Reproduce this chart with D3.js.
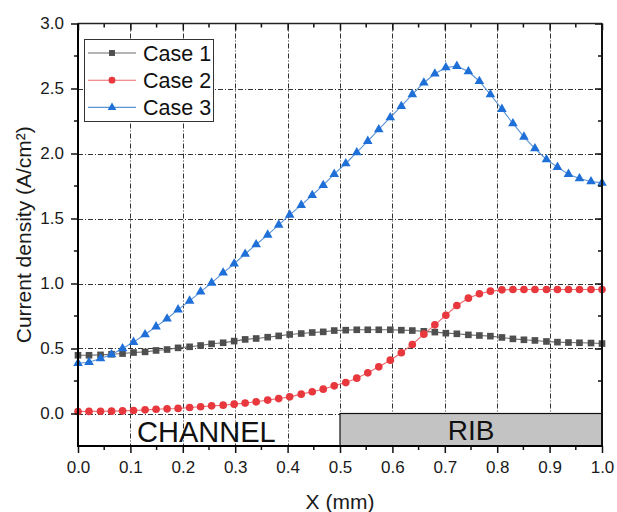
<!DOCTYPE html>
<html>
<head>
<meta charset="utf-8">
<script src="https://cdn.jsdelivr.net/npm/d3@7"></script>
<style>
    body { margin: 0; background: #fff; }
    text { font-family: Arial, "Liberation Sans", sans-serif; }
</style>
</head>
<body>
<div class="current-plot"></div>
<script>
// x positions of the nodes (mm)
const x_mm = [0.000, 0.021, 0.043, 0.064, 0.085, 0.106, 0.128, 0.149, 0.170, 0.191,
    0.213, 0.234, 0.255, 0.277, 0.298, 0.319, 0.340, 0.362, 0.383, 0.404,
    0.426, 0.447, 0.468, 0.489, 0.511, 0.532, 0.553, 0.574, 0.596, 0.617,
    0.638, 0.660, 0.681, 0.702, 0.723, 0.745, 0.766, 0.787, 0.809, 0.830,
    0.851, 0.872, 0.894, 0.915, 0.936, 0.957, 0.979, 1.000];

const case1 = [0.448, 0.448, 0.451, 0.456, 0.461, 0.469, 0.474, 0.485, 0.492, 0.505,
    0.513, 0.523, 0.536, 0.544, 0.557, 0.570, 0.577, 0.587, 0.597, 0.608,
    0.615, 0.623, 0.628, 0.638, 0.641, 0.644, 0.644, 0.644, 0.644, 0.641,
    0.638, 0.632, 0.626, 0.618, 0.613, 0.605, 0.600, 0.595, 0.585, 0.574,
    0.567, 0.562, 0.554, 0.549, 0.546, 0.544, 0.542, 0.538];

const case2 = [0.015, 0.016, 0.017, 0.018, 0.020, 0.023, 0.028, 0.033, 0.036, 0.039,
    0.046, 0.052, 0.059, 0.064, 0.072, 0.080, 0.090, 0.103, 0.115, 0.128,
    0.149, 0.167, 0.187, 0.213, 0.238, 0.272, 0.313, 0.359, 0.410, 0.467,
    0.531, 0.610, 0.682, 0.756, 0.831, 0.887, 0.921, 0.941, 0.951, 0.954,
    0.954, 0.954, 0.954, 0.954, 0.954, 0.954, 0.954, 0.954];

const case3 = [0.387, 0.394, 0.423, 0.454, 0.500, 0.549, 0.608, 0.668, 0.729, 0.799,
    0.866, 0.936, 1.005, 1.082, 1.152, 1.227, 1.300, 1.374, 1.451, 1.528,
    1.603, 1.679, 1.756, 1.841, 1.923, 2.008, 2.095, 2.185, 2.277, 2.364,
    2.455, 2.544, 2.613, 2.662, 2.672, 2.631, 2.556, 2.454, 2.341, 2.231,
    2.128, 2.038, 1.954, 1.895, 1.841, 1.808, 1.785, 1.774];

const series_names = ["Case 1", "Case 2", "Case 3"];
const x_ticks = [0, 0.1, 0.2, 0.3, 0.4, 0.5, 0.6, 0.7, 0.8, 0.9, 1.0];
const y_ticks = [0, 0.5, 1.0, 1.5, 2.0, 2.5, 3.0];
const x_minor = [0.05, 0.15, 0.25, 0.35, 0.45, 0.55, 0.65, 0.75, 0.85, 0.95];
const y_minor = [0.25, 0.75, 1.25, 1.75, 2.25, 2.75];
const regions = [
    {label: "CHANNEL", start: 0, end: 0.5},
    {label: "RIB", start: 0.5, end: 1.0}
];

function draw_chart(){
    const width = 617;
    const height = 512;
    const left = 78, right = 602, top = 23.5, bottom = 446;

    const svg = d3.select(".current-plot")
        .append("svg")
        .attr("width", width)
        .attr("height", height)

    const x = d3.scaleLinear().domain([0, 1]).range([left, right]);
    const y = d3.scaleLinear().domain([-0.25, 3.0]).range([bottom, top]);

    // dash-dot grid
    const grid = svg.append("g")
        .attr("stroke", "#333")
        .attr("stroke-width", 1)
        .attr("stroke-dasharray", "5,2,1,2")
    grid.selectAll(".vgrid")
        .data(x_ticks.filter(d => d > 0 && d < 1))
        .enter()
        .append("line")
        .attr("x1", d => Math.round(x(d)) + 0.5)
        .attr("x2", d => Math.round(x(d)) + 0.5)
        .attr("y1", top)
        .attr("y2", bottom)
    grid.selectAll(".hgrid")
        .data(y_ticks.filter(d => d < 3))
        .enter()
        .append("line")
        .attr("x1", left)
        .attr("x2", right)
        .attr("y1", d => Math.round(y(d)) + 0.5)
        .attr("y2", d => Math.round(y(d)) + 0.5)

    // channel / rib bars
    svg.selectAll(".region")
        .data(regions)
        .enter()
        .append("rect")
        .attr("x", d => x(d.start))
        .attr("y", y(0))
        .attr("width", d => x(d.end) - x(d.start))
        .attr("height", y(-0.25) - y(0))
        .attr("fill", d => d.label == "RIB" ? "#c3c3c3" : "none")
        .attr("stroke", d => d.label == "RIB" ? "#111" : "none")
        .attr("stroke-width", 1.2)

    svg.selectAll(".region-label")
        .data(regions)
        .enter()
        .append("text")
        .attr("x", d => d.label == "RIB" ? x(0.75) : x(0.245))
        .attr("y", d => d.label == "RIB" ? 439.5 : 441.5)
        .attr("text-anchor", "middle")
        .attr("font-size", d => d.label == "RIB" ? "28px" : "29px")
        .attr("fill", "#111")
        .text(d => d.label)

    // series
    const all_series = [
        {name: series_names[0], values: case1, color: "#4f4f4f", line: "#6a6a6a", symbol: d3.symbolSquare, size: 44},
        {name: series_names[1], values: case2, color: "#e8383e", line: "#ec6a6e", symbol: d3.symbolCircle, size: 46},
        {name: series_names[2], values: case3, color: "#1f6fd8", line: "#5a93d6", symbol: d3.symbolTriangle, size: 40}
    ];

    const line = d3.line()
        .x(d => x(d[0]))
        .y(d => y(d[1]));

    all_series.forEach(function(s){
        let pts = x_mm.map((xv, i) => [xv, s.values[i]]);
        svg.append("path")
            .datum(pts)
            .attr("fill", "none")
            .attr("stroke", s.line)
            .attr("stroke-width", 1.1)
            .attr("d", line)
        svg.selectAll(".pt-" + s.name.replace(" ", ""))
            .data(pts)
            .enter()
            .append("path")
            .attr("d", d3.symbol().type(s.symbol).size(s.size))
            .attr("transform", d => "translate(" + x(d[0]) + "," + y(d[1]) + ")")
            .attr("fill", s.color)
    });

    // axes
    const axis_bottom = svg.append("g")
        .attr("transform", "translate(0," + bottom + ")")
        .call(d3.axisBottom(x).tickValues(x_ticks).tickSize(7).tickPadding(8).tickFormat(d3.format(".1f")))
    const axis_left = svg.append("g")
        .attr("transform", "translate(" + left + ",0)")
        .call(d3.axisLeft(y).tickValues(y_ticks).tickSize(7).tickPadding(7).tickFormat(d3.format(".1f")))
    const axis_top = svg.append("g")
        .attr("transform", "translate(0," + top + ")")
        .call(d3.axisBottom(x).tickValues(x_ticks).tickSize(7).tickFormat(""))
    const axis_right = svg.append("g")
        .attr("transform", "translate(" + right + ",0)")
        .call(d3.axisLeft(y).tickValues(y_ticks.filter(d => d > 0)).tickSize(7).tickFormat(""))

    // minor ticks
    axis_bottom.selectAll(".minor").data(x_minor).enter().append("line")
        .attr("x1", d => x(d)).attr("x2", d => x(d)).attr("y1", 0).attr("y2", 4)
    axis_top.selectAll(".minor").data(x_minor).enter().append("line")
        .attr("x1", d => x(d)).attr("x2", d => x(d)).attr("y1", 0).attr("y2", 4)
    axis_left.selectAll(".minor").data(y_minor).enter().append("line")
        .attr("y1", d => y(d)).attr("y2", d => y(d)).attr("x1", 0).attr("x2", -4)
    axis_right.selectAll(".minor").data(y_minor).enter().append("line")
        .attr("y1", d => y(d)).attr("y2", d => y(d)).attr("x1", 0).attr("x2", -4)

    svg.selectAll(".domain").remove();
    svg.selectAll("line").filter(function(){ return !this.getAttribute("stroke-dasharray") && !this.parentNode.getAttribute("stroke-dasharray"); })
        .attr("stroke", "#111").attr("stroke-width", 1.5);
    svg.selectAll(".tick text")
        .attr("font-size", "17px")
        .attr("font-family", "Arial, 'Liberation Sans', sans-serif")
        .attr("fill", "#1a1a1a")

    // frame
    svg.append("line").attr("x1", left).attr("x2", right).attr("y1", top).attr("y2", top)
        .attr("stroke", "#222").attr("stroke-width", 1.5)
    svg.append("line").attr("x1", right).attr("x2", right).attr("y1", top).attr("y2", bottom)
        .attr("stroke", "#111").attr("stroke-width", 2)
    svg.append("line").attr("x1", left).attr("x2", left).attr("y1", top).attr("y2", bottom + 1)
        .attr("stroke", "#000").attr("stroke-width", 2)
    svg.append("line").attr("x1", left - 1).attr("x2", right + 1).attr("y1", bottom).attr("y2", bottom)
        .attr("stroke", "#000").attr("stroke-width", 2)

    // axis titles
    svg.append("text")
        .attr("x", (left + right) / 2)
        .attr("y", 509)
        .attr("text-anchor", "middle")
        .attr("font-size", "21px")
        .attr("fill", "#1a1a1a")
        .text("X (mm)")
    svg.append("text")
        .attr("transform", "translate(31," + ((top + bottom) / 2) + ") rotate(-90)")
        .attr("text-anchor", "middle")
        .attr("font-size", "21px")
        .attr("fill", "#1a1a1a")
        .text("Current density (A/cm²)")

    // legend
    const legend = svg.append("g")
    legend.append("rect")
        .attr("x", 84.5)
        .attr("y", 39.5)
        .attr("width", 129)
        .attr("height", 82)
        .attr("fill", "#fff")
        .attr("stroke", "#333")
        .attr("stroke-width", 1)
    const rows = legend.selectAll(".legend-row")
        .data(all_series)
        .enter()
        .append("g")
        .attr("transform", (d, i) => "translate(0," + (53 + i * 27.2) + ")")
    rows.append("line")
        .attr("x1", 88).attr("x2", 136).attr("y1", 0).attr("y2", 0)
        .attr("stroke", d => d.line).attr("stroke-width", 1.1)
    rows.append("path")
        .attr("d", d => d3.symbol().type(d.symbol).size(d.size * 0.8)())
        .attr("transform", "translate(112,0)")
        .attr("fill", d => d.color)
    rows.append("text")
        .attr("x", 143)
        .attr("y", 7.5)
        .attr("font-size", "21.5px")
        .attr("fill", "#111")
        .text(d => d.name)
}

draw_chart();
</script>
</body>
</html>
